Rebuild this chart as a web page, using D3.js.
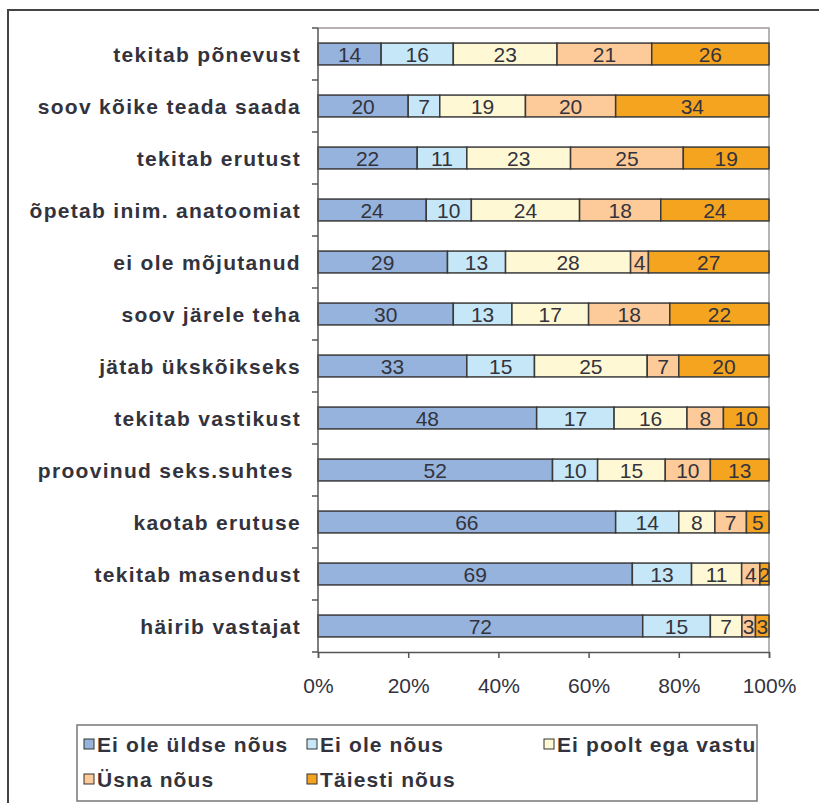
<!DOCTYPE html>
<html>
<head>
<meta charset="utf-8">
<script src="https://cdn.jsdelivr.net/npm/d3@7.9.0/dist/d3.min.js"></script>
<style>
  body { margin: 0; background: #fff; }
  svg { display: block; }
  text { font-family: "Liberation Sans", Arial, sans-serif; fill: #33333d; white-space: pre; }
</style>
</head>
<body>
<svg id="chart" width="819" height="803"></svg>
<script>
// categories, top to bottom
const categories = [
  "tekitab põnevust", "soov kõike teada saada", "tekitab erutust",
  "õpetab inim. anatoomiat", "ei ole mõjutanud", "soov järele teha",
  "jätab ükskõikseks", "tekitab vastikust", "proovinud seks.suhtes ",
  "kaotab erutuse", "tekitab masendust", "häirib vastajat"
];
const seriesNames = ["Ei ole üldse nõus", "Ei ole nõus", "Ei poolt ega vastu", "Üsna nõus", "Täiesti nõus"];
const eiOleUldse = [14, 20, 22, 24, 29, 30, 33, 48, 52, 66, 69, 72];
const eiOle      = [16, 7, 11, 10, 13, 13, 15, 17, 10, 14, 13, 15];
const eiPoolt    = [23, 19, 23, 24, 28, 17, 25, 16, 15, 8, 11, 7];
const usna       = [21, 20, 25, 18, 4, 18, 7, 8, 10, 7, 4, 3];
const taiesti    = [26, 34, 19, 24, 27, 22, 20, 10, 13, 5, 2, 3];
const tickLabels = [0, 0.2, 0.4, 0.6, 0.8, 1];
const colors = ["#95b3dc", "#c6e7f7", "#fff8d5", "#fdcb99", "#f5a420"];

const rows = categories.map((c, i) => ({
  cat: c,
  [seriesNames[0]]: eiOleUldse[i],
  [seriesNames[1]]: eiOle[i],
  [seriesNames[2]]: eiPoolt[i],
  [seriesNames[3]]: usna[i],
  [seriesNames[4]]: taiesti[i]
}));

const svg = d3.select("#chart");
const plotLeft = 318, plotRight = 769, plotTop = 28, plotBottom = 652;

// outer frame
svg.append("rect").attr("x", 8).attr("y", 10).attr("width", 830).attr("height", 820)
  .attr("fill", "none").attr("stroke", "#444").attr("stroke-width", 2);

const x = d3.scaleLinear().domain([0, 1]).range([plotLeft, plotRight]);
const y = d3.scaleBand().domain(categories).range([plotTop, plotBottom]).paddingInner(0.58).paddingOuter(0.29);
const color = d3.scaleOrdinal().domain(seriesNames).range(colors);

const stacked = d3.stack().keys(seriesNames).offset(d3.stackOffsetExpand)(rows);

// plot border top/right
svg.append("path")
  .attr("d", `M${plotLeft},${plotTop}H${plotRight}V${plotBottom}`)
  .attr("fill", "none").attr("stroke", "#a09a9a").attr("stroke-width", 1.5);

const groups = svg.selectAll("g.series").data(stacked).join("g")
  .attr("class", "series").attr("fill", d => color(d.key));

groups.selectAll("rect").data(d => d).join("rect")
  .attr("x", d => x(d[0]))
  .attr("y", d => y(d.data.cat))
  .attr("width", d => x(d[1]) - x(d[0]))
  .attr("height", y.bandwidth())
  .attr("stroke", "#3a3a3a").attr("stroke-width", 1.5);

groups.each(function(s) {
  d3.select(this).selectAll("text").data(s).join("text")
    .attr("x", d => (x(d[0]) + x(d[1])) / 2)
    .attr("y", d => y(d.data.cat) + y.bandwidth() / 2)
    .attr("dy", "0.37em")
    .attr("text-anchor", "middle")
    .attr("font-size", 21)
    .text(d => d.data[s.key]);
});

// left axis with ticks on the band edges
const yAxis = svg.append("g");
yAxis.append("line").attr("x1", plotLeft).attr("x2", plotLeft).attr("y1", plotTop).attr("y2", plotBottom)
  .attr("stroke", "#555").attr("stroke-width", 1.5);
const edges = d3.range(categories.length + 1).map(i => plotTop + i * y.step());
yAxis.selectAll("line.t").data(edges).join("line").attr("class", "t")
  .attr("x1", plotLeft - 6).attr("x2", plotLeft).attr("y1", d => d).attr("y2", d => d)
  .attr("stroke", "#555").attr("stroke-width", 1.5);
yAxis.selectAll("text").data(categories).join("text")
  .attr("x", 301)
  .attr("y", d => y(d) + y.bandwidth() / 2)
  .attr("dy", "0.36em")
  .attr("text-anchor", "end")
  .attr("font-size", 21).attr("font-weight", "bold").attr("letter-spacing", 1.3)
  .text(d => d);

// bottom axis
const xAxis = svg.append("g").attr("transform", `translate(0,${plotBottom})`)
  .call(d3.axisBottom(x).tickValues(tickLabels).tickFormat(d3.format(".0%")).tickSize(6).tickPadding(20));
xAxis.select(".domain").attr("stroke", "#555").attr("stroke-width", 1.5);
xAxis.selectAll(".tick line").attr("stroke", "#555").attr("stroke-width", 1.5);
xAxis.selectAll(".tick text").attr("font-size", 21).attr("fill", "#33333d")
  .attr("font-family", "Liberation Sans, Arial, sans-serif");

// legend
const legend = svg.append("g");
legend.append("rect").attr("x", 77).attr("y", 725).attr("width", 680).attr("height", 76)
  .attr("fill", "#fff").attr("stroke", "#777").attr("stroke-width", 1.5);
const legendPos = [[84, 744], [307, 744], [544, 744], [84, 779], [307, 779]];
const items = legend.selectAll("g.item").data(seriesNames).join("g")
  .attr("class", "item")
  .attr("transform", (d, i) => `translate(${legendPos[i][0]},${legendPos[i][1]})`);
items.append("rect").attr("x", 0).attr("y", -5).attr("width", 10).attr("height", 10)
  .attr("fill", d => color(d)).attr("stroke", "#333").attr("stroke-width", 1);
items.append("text").attr("x", 13).attr("dy", "0.36em")
  .attr("font-size", 21).attr("font-weight", "bold").attr("letter-spacing", 1.1)
  .text(d => d);
</script>
</body>
</html>
